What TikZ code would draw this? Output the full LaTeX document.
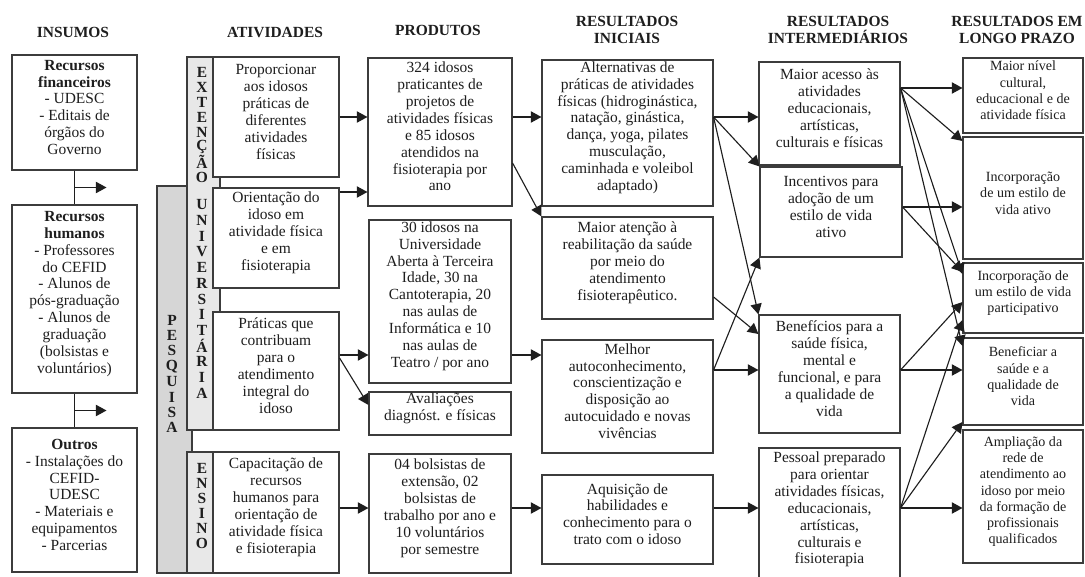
\documentclass[tikz,border=0pt]{standalone}
\usepackage{fontspec}
\setmainfont{Liberation Serif}
\usetikzlibrary{arrows.meta,fit,calc}

\definecolor{ink}{HTML}{1E1E1E}
\definecolor{edge}{HTML}{3C3C3C}
\definecolor{barlight}{HTML}{E8E8E8}
\definecolor{bardark}{HTML}{D6D6D6}

\begin{document}
\begin{tikzpicture}[x=0.025cm,y=-0.025cm,>={Triangle[length=7.5pt,width=8pt]},
  box/.style={draw=edge,fill=white,line width=0.8pt,inner sep=0pt,align=center,text=ink,font=\fontsize{11}{12}\selectfont},
  lbox/.style={box,font=\fontsize{10}{11.6}\selectfont},
  bar/.style={draw=edge,line width=0.8pt,inner sep=0pt},
  head/.style={align=center,text=ink,font=\fontsize{11}{11.5}\selectfont\bfseries},
  vlet/.style={inner sep=0pt,text=ink,font=\fontsize{11}{11}\selectfont\bfseries},
  flow/.style={->,draw=ink,line width=0.8pt}]

\useasboundingbox (0,0) rectangle (1085,577);

% column headings
\node[head] (hins) at (73,32) {INSUMOS};
\node[head] (hativ) at (275,32) {ATIVIDADES};
\node[head] (hprod) at (438,30) {PRODUTOS};
\node[head] (hini) at (627,30) {RESULTADOS\\INICIAIS};
\node[head] (hint) at (838,30) {RESULTADOS\\INTERMEDIÁRIOS};
\node[head] (hlon) at (1017,30) {RESULTADOS EM\\LONGO PRAZO};

% insumos
\node[box,fit={(12,55) (137,170)}] (ins1) {\textbf{Recursos}\\\textbf{financeiros}\\- UDESC\\- Editais de\\órgãos do\\Governo};
\node[box,fit={(12,205) (137,393)}] (ins2) {\textbf{Recursos}\\\textbf{humanos}\\- Professores\\do CEFID\\- Alunos de\\pós-graduação\\- Alunos de\\graduação\\(bolsistas e\\voluntários)};
\node[box,fit={(12,428) (137,572)}] (ins3) {\textbf{Outros}\\- Instalações do\\CEFID-\\UDESC\\- Materiais e\\equipamentos\\- Parcerias};

% gray bands behind the activities
\node[bar,fill=bardark,fit={(157,186) (192,573)}] (pesq) {};
\node[bar,fill=barlight,fit={(187,57) (220,430)}] (ext) {};
\node[bar,fill=barlight,fit={(187,452) (220,573)}] (ens) {};
\foreach \c [count=\i from 0] in {P,E,S,Q,U,I,S,A}
  \node[vlet] (pq\i) at (172,320+15.4*\i) {\c};
\foreach \c [count=\i from 0] in {E,X,T,E,N,Ç,Ã,O}
  \node[vlet] (ex\i) at (202,72+15*\i) {\c};
\foreach \c [count=\i from 0] in {U,N,I,V,E,R,S,I,T,Á,R,I,A}
  \node[vlet] (un\i) at (202,205+15.67*\i) {\c};
\foreach \c [count=\i from 0] in {E,N,S,I,N,O}
  \node[vlet] (en\i) at (202,468+15*\i) {\c};

% atividades
\node[box,fit={(213,57) (339,177)}] (a1) {Proporcionar\\aos idosos\\práticas de\\diferentes\\atividades\\físicas};
\node[box,fit={(213,188) (339,288)}] (a2) {Orientação do\\idoso em\\atividade física\\e em\\fisioterapia};
\node[box,fit={(213,312) (339,430)}] (a3) {Práticas que\\contribuam\\para o\\atendimento\\integral do\\idoso};
\node[box,fit={(213,452) (339,573)}] (a4) {Capacitação de\\recursos\\humanos para\\orientação de\\atividade física\\e fisioterapia};

% produtos
\node[box,fit={(368,58) (512,206)}] (p1) {324 idosos\\praticantes de\\projetos de\\atividades físicas\\e 85 idosos\\atendidos na\\fisioterapia por\\ano};
\node[box,fit={(369,220) (511,383)}] (p2) {30 idosos na\\Universidade\\Aberta à Terceira\\Idade, 30 na\\Cantoterapia, 20\\nas aulas de\\Informática e 10\\nas aulas de\\Teatro / por ano};
\node[box,fit={(369,392) (511,435)}] (aval) {Avaliações\\diagnóst. e físicas};
\node[box,fit={(369,454) (511,573)}] (p3) {04 bolsistas de\\extensão, 02\\bolsistas de\\trabalho por ano e\\10 voluntários\\por semestre};

% resultados iniciais
\node[box,fit={(542,60) (713,206)}] (r1) {Alternativas de\\práticas de atividades\\físicas (hidroginástica,\\natação, ginástica,\\dança, yoga, pilates\\musculação,\\caminhada e voleibol\\adaptado)};
\node[box,fit={(542,217) (713,319)}] (r2) {Maior atenção à\\reabilitação da saúde\\por meio do\\atendimento\\fisioterapêutico.};
\node[box,fit={(542,340) (713,453)}] (r3) {Melhor\\autoconhecimento,\\conscientização e\\disposição ao\\autocuidado e novas\\vivências};
\node[box,fit={(542,475) (713,564)}] (r4) {Aquisição de\\habilidades e\\conhecimento para o\\trato com o idoso};

% resultados intermediarios
\node[box,fit={(759,62) (900,165)}] (i1) {Maior acesso às\\atividades\\educacionais,\\artísticas,\\culturais e físicas};
\node[box,fit={(760,167) (902,257)}] (i2) {Incentivos para\\adoção de um\\estilo de vida\\ativo};
\node[box,fit={(759,315) (900,433)}] (i3) {Benefícios para a\\saúde física,\\mental e\\funcional, e para\\a qualidade de\\vida};
\node[box,fit={(759,448) (900,582)}] (i4) {Pessoal preparado\\para orientar\\atividades físicas,\\educacionais,\\artísticas,\\culturais e\\fisioterapia};

% resultados em longo prazo
\node[lbox,fit={(963,58) (1083,133)}] (l1) {Maior nível\\cultural,\\educacional e de\\atividade física};
\node[lbox,fit={(963,137) (1083,259)}] (l2) {Incorporação\\de um estilo de\\vida ativo};
\node[lbox,fit={(963,263) (1083,333)}] (l3) {Incorporação de\\um estilo de vida\\participativo};
\node[lbox,fit={(963,338) (1083,425)}] (l4) {Beneficiar a\\saúde e a\\qualidade de\\vida};
\node[lbox,fit={(963,430) (1083,563)}] (l5) {Ampliação da\\rede de\\atendimento ao\\idoso por meio\\da formação de\\profissionais\\qualificados};

% insumos links
\draw[flow,-] (ins1.south) -- (ins2.north);
\draw[flow,-] (ins2.south) -- (ins3.north);
\draw[flow] ($(ins1.south)!0.5!(ins2.north)$) -- ++(32,0);
\draw[flow] ($(ins2.south)!0.5!(ins3.north)$) -- ++(32,0);

% atividades -> produtos
\draw[flow] (a1.east) -- (p1.west |- a1.east);
\draw[flow] (a2.east |- 0,192) -- (p1.west |- 0,192);
\draw[flow] (a3.east |- 0,355) -- (p2.west |- 0,355);
\draw[flow] (a3.east |- 0,358) -- (aval.west |- 0,405);
\draw[flow] (a4.east |- 0,508) -- (p3.west |- 0,508);

% produtos -> resultados iniciais
\draw[flow] (p1.east |- 0,117) -- (r1.west |- 0,117);
\draw[flow] (p1.east |- 0,163) -- (r2.north west);
\draw[flow] (p2.east |- 0,355) -- (r3.west |- 0,355);
\draw[flow] (p3.east |- 0,508) -- (r4.west |- 0,508);

% iniciais -> intermediarios
\coordinate (r1o) at (r1.east |- 0,117);
\coordinate (r3o) at (r3.east |- 0,370);
\draw[flow] (r1o) -- (i1.west |- r1o);
\draw[flow] (r1o) -- (i2.north west);
\draw[flow] (r1o) -- (i3.north west);
\draw[flow] (r2.east |- 0,297) -- (i3.west |- 0,334);
\draw[flow] (r3o) -- (i2.south west);
\draw[flow] (r3o) -- (i3.west |- r3o);
\draw[flow] (r4.east |- 0,508) -- (i4.west |- 0,508);

% intermediarios -> longo prazo
\coordinate (i1o) at (i1.east |- 0,88);
\coordinate (i2o) at (i2.east |- 0,207);
\coordinate (i3o) at (i3.east |- 0,370);
\coordinate (i4o) at (i4.east |- 0,508);
\foreach \y/\t in {88/l1,141/l2,274/l3,346/l4}
  \draw[flow] (i1o) -- (\t.west |- 0,\y);
\foreach \y/\t in {207/l2,272/l3}
  \draw[flow] (i2o) -- (\t.west |- 0,\y);
\foreach \y/\t in {302/l3,370/l4}
  \draw[flow] (i3o) -- (\t.west |- 0,\y);
\foreach \y/\t in {320/l3,422/l4,508/l5}
  \draw[flow] (i4o) -- (\t.west |- 0,\y);
\end{tikzpicture}
\end{document}
